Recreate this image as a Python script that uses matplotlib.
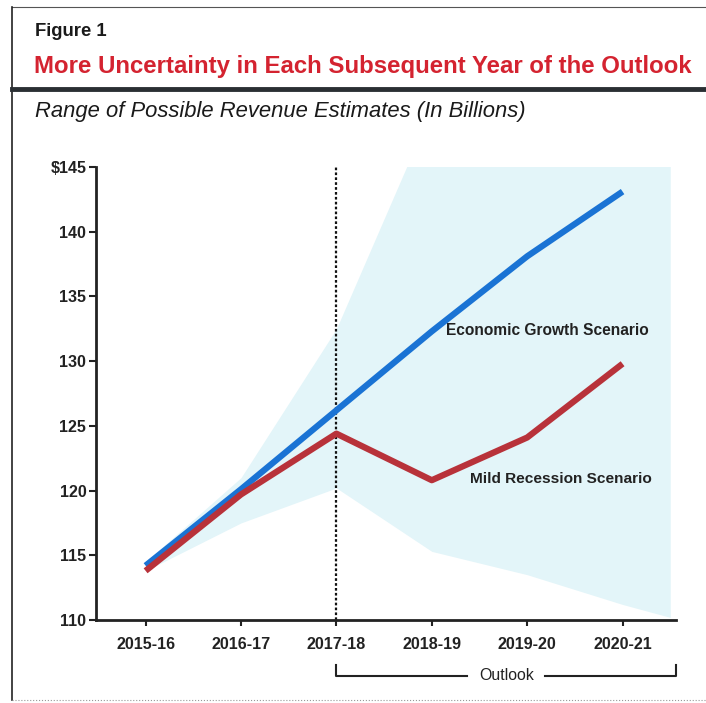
import numpy as np
import matplotlib.pyplot as plt
from matplotlib.lines import Line2D

plt.rcParams['font.family'] = ['Liberation Sans', 'DejaVu Sans']

# data
years = ["2015-16", "2016-17", "2017-18", "2018-19", "2019-20", "2020-21"]
growth = [114.2, 120.1, 126.2, 132.3, 138.1, 143.1]
recession = [113.8, 119.7, 124.4, 120.8, 124.1, 129.8]
band_x = [0, 1, 2, 3, 4, 5, 5.5]
band_low = [113.8, 117.5, 120.2, 115.3, 113.5, 111.2, 110.2]
band_high = [114.5, 121.0, 132.5, 149.5, 155.0, 160.0, 162.0]
yticks = [110, 115, 120, 125, 130, 135, 140, 145]
ytick_labels = ["110", "115", "120", "125", "130", "135", "140", "$145"]
outlook_start = 2

fig = plt.figure(figsize=(7.06, 7.03), dpi=100)

# page frame, title block
fig.add_artist(Line2D([12/706, 1], [1 - 7/703]*2, color='#555555', lw=0.8))
fig.add_artist(Line2D([12/706]*2, [1 - 7/703, 1 - 700/703], color='#222222', lw=1.2))
fig.add_artist(Line2D([12/706, 1], [1 - 700/703]*2, color='#999999', lw=0.8, ls=':'))
fig.add_artist(Line2D([12/706, 1], [1 - 89/703]*2, color='#2a2f33', lw=3.5))

fig.text(35/706, 1 - 31/703, "Figure 1", fontsize=13.3, fontweight='bold',
         color='#1a1a1a', va='center')
fig.text(34/706, 1 - 67/703, "More Uncertainty in Each Subsequent Year of the Outlook",
         fontsize=17.3, fontweight='bold', color='#d42330', va='center')
fig.text(35/706, 1 - 112/703, "Range of Possible Revenue Estimates (In Billions)",
         fontsize=15.8, style='italic', color='#1a1a1a', va='center')

ax = fig.add_axes([96/706, 1 - 620/703, 580/706, 453/703])
x = np.arange(len(years))

ax.fill_between(band_x, band_low, band_high, color='#e3f5f9', lw=0, zorder=1)
ax.plot(x, growth, color='#1a73d4', lw=4.5, solid_capstyle='butt', zorder=3)
ax.plot(x, recession, color='#b8323a', lw=4.5, solid_capstyle='butt', zorder=4)
ax.axvline(outlook_start, color='#111111', lw=1.6, ls=(0, (1.2, 1.0)), zorder=2)

ax.text(3.15, 132.4, "Economic Growth Scenario", fontsize=11.2, fontweight='bold',
        color='#222222', va='center')
ax.text(3.40, 120.9, "Mild Recession Scenario", fontsize=11.1, fontweight='bold',
        color='#222222', va='center')

ax.set_xlim(-0.52, 5.56)
ax.set_ylim(110, 145)
ax.set_xticks(x)
ax.set_xticklabels(years)
ax.set_yticks(yticks)
ax.set_yticklabels(ytick_labels)
for lbl in ax.get_xticklabels() + ax.get_yticklabels():
    lbl.set_fontweight('bold')
    lbl.set_fontsize(11.6)
    lbl.set_color('#222222')
ax.tick_params(axis='y', length=5, width=1.5, color='#222222', pad=2)
ax.tick_params(axis='x', length=4, width=1.5, color='#222222', pad=8)
for s in ['top', 'right']:
    ax.spines[s].set_visible(False)
for s in ['left', 'bottom']:
    ax.spines[s].set_linewidth(2)
    ax.spines[s].set_color('#222222')

# outlook bracket below the axis
yb = 1 - 676/703
yt = 1 - 665/703
xl = 336/706
xr = 676/706
xm = 507/706
bc = '#222222'
fig.add_artist(Line2D([xl, xl, 467/706], [yt, yb, yb], color=bc, lw=1.5))
fig.add_artist(Line2D([545/706, xr, xr], [yb, yb, yt], color=bc, lw=1.5))
fig.text(xm, yb, "Outlook", fontsize=11.4, ha='center', va='center', color='#222222')

fig.savefig("out.png", dpi=100)
